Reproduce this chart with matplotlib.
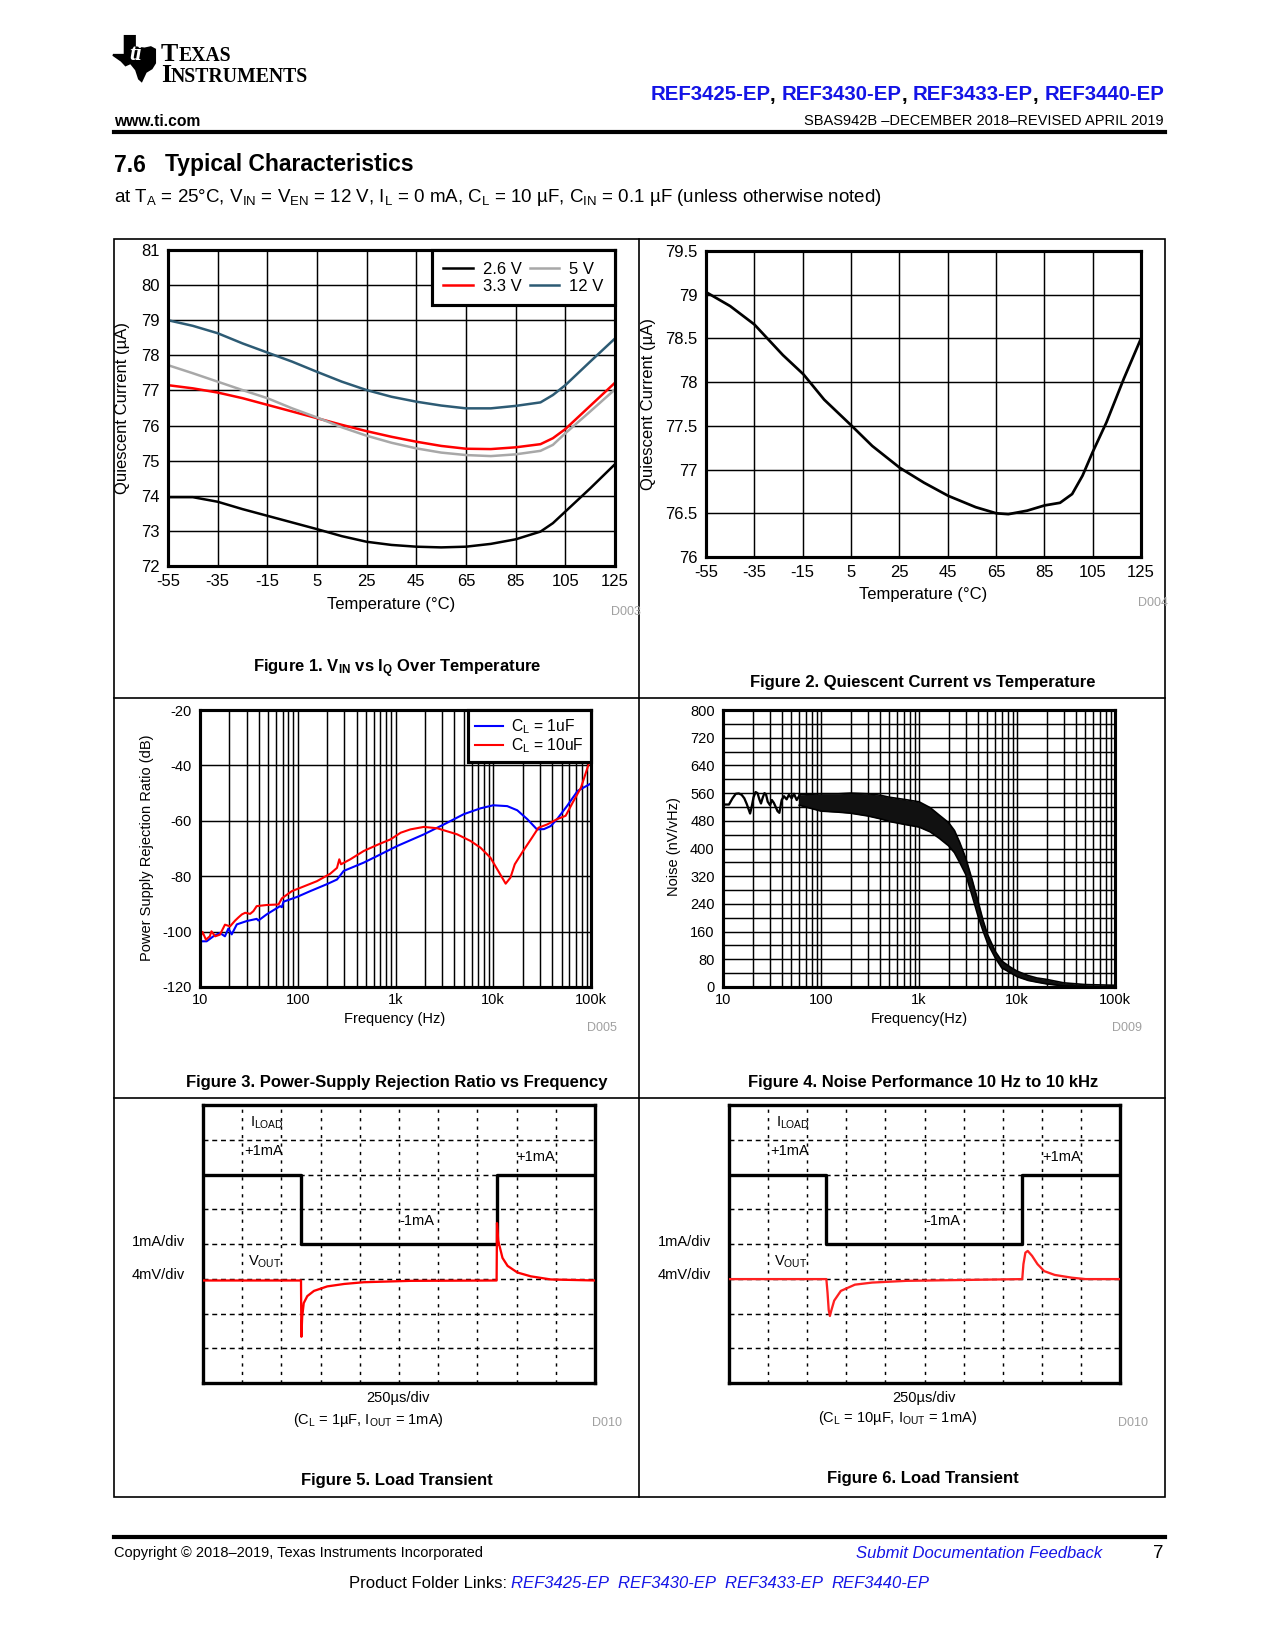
import matplotlib
matplotlib.use("Agg")
import matplotlib.pyplot as plt
from matplotlib.lines import Line2D
from matplotlib.patches import Rectangle, Polygon
from matplotlib.ticker import NullFormatter, FixedLocator

plt.rcParams['font.family'] = ['Liberation Sans', 'DejaVu Sans']
plt.rcParams['mathtext.default'] = 'regular'
plt.rcParams['axes.unicode_minus'] = False
plt.rcParams['font.size'] = 8

# ---------------------------------------------------------------- data
# Figure 1 : Iq vs temperature for four supply voltages
f1_temp = [-55, -45, -35, -25, -15, -5, 5, 15, 25, 35, 45, 55, 65, 75, 85, 95, 100, 105, 115, 125]
f1_iq_26 = [73.96, 73.96, 73.83, 73.62, 73.43, 73.24, 73.05, 72.85, 72.69, 72.60,
            72.55, 72.53, 72.55, 72.63, 72.76, 72.98, 73.22, 73.55, 74.21, 74.90]
f1_iq_33 = [77.15, 77.06, 76.94, 76.78, 76.59, 76.40, 76.21, 76.02, 75.84, 75.68,
            75.54, 75.42, 75.34, 75.33, 75.38, 75.47, 75.64, 75.90, 76.56, 77.22]
f1_iq_5 = [77.72, 77.49, 77.25, 77.01, 76.78, 76.49, 76.23, 75.95, 75.71, 75.51,
           75.35, 75.23, 75.16, 75.13, 75.18, 75.28, 75.45, 75.78, 76.40, 77.03]
f1_iq_12 = [79.00, 78.84, 78.63, 78.34, 78.08, 77.82, 77.53, 77.25, 77.01, 76.82,
            76.68, 76.57, 76.49, 76.49, 76.56, 76.66, 76.87, 77.15, 77.82, 78.48]
f1_labels = ['2.6 V', '3.3 V', '5 V', '12 V']
f1_colors = ['#000000', '#ff0000', '#a8a8a8', '#2d5b74']

temp_ticks = [-55, -35, -15, 5, 25, 45, 65, 85, 105, 125]
f1_yticks = [72, 73, 74, 75, 76, 77, 78, 79, 80, 81]

# Figure 2 : Iq vs temperature
f2_temp = [-55, -45, -35, -23.2, -14.7, -6.1, 5.3, 13.8, 25.2, 35.2, 45.2, 56.6, 65.1, 70.1,
           77.9, 85.1, 91.5, 96.5, 100.8, 105, 110.7, 117.9, 124.7]
f2_iq = [79.03, 78.87, 78.66, 78.31, 78.09, 77.80, 77.50, 77.27, 77.02, 76.85, 76.70, 76.57,
         76.50, 76.49, 76.53, 76.59, 76.62, 76.72, 76.93, 77.20, 77.54, 78.04, 78.48]
f2_yticks = [76, 76.5, 77, 77.5, 78, 78.5, 79, 79.5]
f2_yticklabels = ['76', '76.5', '77', '77.5', '78', '78.5', '79', '79.5']

# Figure 3 : PSRR
f3_freq_1u = [10, 11.7, 13.7, 16, 18, 19.5, 21.1, 23.8, 30, 38, 39.6, 48, 66, 68.8, 71.5, 98,
              134, 198, 252, 295, 473, 650, 1040, 1950, 3130, 5000, 7400, 10000, 13900,
              17600, 22300, 28000, 33000, 38700, 45000, 57000, 73000, 100000]
f3_psrr_1u = [-103.5, -103.5, -101.7, -100.5, -101.7, -98.9, -101.0, -97.4, -96.2, -95.4,
              -96.0, -93.8, -90.8, -91.2, -89.2, -87.5, -85.4, -82.9, -81.2, -78.1, -75.1,
              -72.7, -69.1, -64.9, -61.3, -57.6, -55.5, -54.4, -54.7, -56.2, -59.4, -63.1,
              -63.0, -61.9, -59.4, -54.6, -49.2, -46.5]
f3_freq_10u = [10, 10.6, 11.5, 12.6, 13.1, 14.3, 16, 18, 20.3, 22.9, 24.7, 26.8, 29, 32.6, 35.2,
               38, 48, 63.6, 68.8, 87, 106, 157, 215, 252, 266, 277, 345, 473, 650, 890, 1130,
               1420, 1950, 2680, 4280, 5870, 7400, 9350, 11500, 13400, 15000, 16600, 20200,
               24900, 29000, 35700, 45000, 55000, 65000, 79000, 100000]
f3_psrr_10u = [-102.3, -100.1, -102.9, -101.7, -99.9, -101.7, -101.1, -97.5, -98.1, -96.0,
               -94.9, -93.8, -93.2, -93.6, -92.6, -90.8, -90.4, -90.2, -88.0, -85.4, -84.2,
               -81.8, -79.1, -77.0, -73.9, -75.7, -73.9, -70.9, -68.7, -66.7, -64.3, -63.1,
               -62.2, -62.7, -64.9, -67.3, -69.7, -73.3, -78.7, -82.7, -80.5, -75.7, -70.9,
               -66.1, -62.5, -61.3, -59.4, -58.2, -53.4, -48.0, -37.0]
freq_ticks = [10, 100, 1000, 10000, 100000]
freq_ticklabels = ['10', '100', '1k', '10k', '100k']
f3_yticks = [-120, -100, -80, -60, -40, -20]

# Figure 4 : noise density (low-frequency trace + envelope of the dense band)
f4_freq_lo = [10, 11.5, 12.5, 13.5, 14.5, 15.5, 16.5, 17.5, 18.9, 19.6, 20.5, 21.5, 22.5, 23.5,
              24.4, 25.5, 26.5, 27.5, 28.6, 30.2, 31.5, 33, 34.5, 36, 37.6, 39.7, 41.9, 44.6,
              47, 50.2, 53, 56.5, 60]
f4_noise_lo = [527, 527, 545, 558, 559, 555, 545, 528, 501, 520, 548, 563, 560, 542, 530, 548,
               560, 556, 535, 525, 540, 532, 520, 508, 503, 540, 551, 542, 555, 545, 558, 540, 552]
f4_freq_band = [60, 100, 150, 200, 300, 400, 500, 700, 1000, 1300, 1600, 2000, 2300, 2600,
                3000, 3500, 4000, 4500, 5000, 6000, 7000, 8500, 10000, 13000, 16000, 20000,
                30000, 50000, 100000]
f4_noise_hi = [555, 558, 558, 560, 558, 554, 548, 542, 535, 518, 497, 475, 452, 418, 372, 308,
               248, 193, 152, 103, 75, 58, 46, 33, 26, 22, 12, 7, 5]
f4_noise_lo_env = [525, 508, 505, 502, 494, 486, 478, 470, 462, 448, 430, 408, 388, 360, 325,
                   262, 205, 162, 127, 84, 55, 42, 30, 19, 14, 9, 3, 1, 0]
f4_yticks = list(range(0, 801, 80))

# Figures 5/6 : scope traces, in divisions (10 x 8 screen)
f5_iload_t = [0, 2.5, 7.49, 10]
f5_iload = [6, 4, 6, 6]
f5_vout_t = [0, 2.5, 2.51, 2.53, 2.57, 2.66, 2.83, 3.17, 3.6, 4.1, 5.3, 7.49, 7.5, 7.53, 7.64,
             7.77, 8.02, 8.36, 8.87, 10]
f5_vout = [2.95, 2.95, 1.33, 1.9, 2.3, 2.5, 2.65, 2.78, 2.85, 2.9, 2.94, 2.95, 4.6, 4.1, 3.6,
           3.37, 3.18, 3.07, 2.98, 2.95]
f6_iload_t = [0, 2.49, 7.5, 10]
f6_iload = [6, 4, 6, 6]
f6_vout_t = [0, 2.49, 2.52, 2.55, 2.58, 2.62, 2.69, 2.86, 3.22, 3.66, 4.54, 7.5, 7.53, 7.58,
             7.64, 7.75, 7.89, 8.06, 8.33, 8.77, 9.12, 10]
f6_vout = [2.99, 2.99, 2.6, 2.1, 1.93, 2.1, 2.37, 2.65, 2.83, 2.89, 2.94, 2.99, 3.42, 3.75,
           3.8, 3.66, 3.42, 3.22, 3.11, 3.03, 2.99, 2.99]

BLUE = '#1414e6'
GREY = '#a0a0a0'

# ---------------------------------------------------------------- page
W, H = 1275, 1650
fig = plt.figure(figsize=(8.5, 11), dpi=150)
renderer = fig.canvas.get_renderer()


def fx(x):
  return x / W


def fy(y):
  return 1 - y / H


def box_axes(l, t, r, b):
  return fig.add_axes([l / W, 1 - b / H, (r - l) / W, (b - t) / H])


def hline(x0, x1, y, lw):
  fig.add_artist(Line2D([fx(x0), fx(x1)], [fy(y), fy(y)], color='k', lw=lw))


def vline(x, y0, y1, lw):
  fig.add_artist(Line2D([fx(x), fx(x)], [fy(y0), fy(y1)], color='k', lw=lw))


def rich(x, y, parts, ha='left', va='center', **common):
  # parts drawn one after another, measured with the renderer
  texts = []
  for s, kw in parts:
    opts = dict(common)
    opts.update(kw)
    texts.append(fig.text(0, fy(y), s, va=va, **opts))
  widths = [t.get_window_extent(renderer).width for t in texts]
  total = sum(widths)
  x0 = x if ha == 'left' else (x - total if ha == 'right' else x - total / 2.0)
  for t, w in zip(texts, widths):
    t.set_x(x0 / W)
    x0 += w


def txt(x, y, s, **kw):
  kw.setdefault('ha', 'center')
  kw.setdefault('va', 'center')
  return fig.text(fx(x), fy(y), s, **kw)


# ---- header
logo = [(0.28, 0), (0.52, 0), (0.52, 0.25), (0.75, 0.28), (0.9, 0.25), (1.0, 0.3), (1.0, 0.6),
        (0.92, 0.72), (0.78, 0.8), (0.68, 1.0), (0.62, 0.95), (0.55, 0.75), (0.42, 0.6),
        (0.3, 0.65), (0.2, 0.55), (0.0, 0.42), (0.28, 0.42)]
fig.add_artist(Polygon([(fx(113 + u * 42), fy(36 + v * 45)) for u, v in logo],
                       closed=True, color='k', transform=fig.transFigure))
txt(136, 54, 'ti', color='white', fontsize=11, fontweight='bold', style='italic',
    family='Liberation Serif')
rich(161, 61, [('T', dict(fontsize=12.5)), ('EXAS', dict(fontsize=9.5))], va='baseline',
     family='Liberation Serif', fontweight='bold')
rich(161, 82, [('I', dict(fontsize=12.5)), ('NSTRUMENTS', dict(fontsize=9.5))], va='baseline',
     family='Liberation Serif', fontweight='bold')

hdr = []
for i, name in enumerate(['REF3425-EP', 'REF3430-EP', 'REF3433-EP', 'REF3440-EP']):
  if i:
    hdr.append((', ', dict(color='k')))
  hdr.append((name, dict(color=BLUE)))
rich(1164, 95, hdr, ha='right', fontsize=9.8, fontweight='bold')

txt(114, 121, 'www.ti.com', ha='left', fontsize=7.5, fontweight='bold')
txt(1164, 121, 'SBAS942B \u2013DECEMBER 2018\u2013REVISED APRIL 2019', ha='right', fontsize=7)
hline(114, 1165, 132, 2.0)

txt(114, 165, '7.6', ha='left', fontsize=11, fontweight='bold')
txt(165, 165, 'Typical Characteristics', ha='left', fontsize=11, fontweight='bold')
txt(114, 197, 'at T$_A$ = 25\u00b0C, V$_{IN}$ = V$_{EN}$ = 12 V, I$_L$ = 0 mA, C$_L$ = 10 \u00b5F, '
    'C$_{IN}$ = 0.1 \u00b5F (unless otherwise noted)', ha='left', fontsize=9)

# ---- panel frame
fig.add_artist(Rectangle((fx(114), fy(1497)), (1165 - 114) / W, (1497 - 239) / H, fill=False,
                         lw=0.8, ec='k', transform=fig.transFigure))
vline(639, 239, 1497, 0.8)
hline(114, 1165, 698, 0.8)
hline(114, 1165, 1098, 0.8)


def style_axes(ax, size):
  for s in ax.spines.values():
    s.set_linewidth(1.5)
  ax.tick_params(which='both', length=0, labelsize=size, pad=4)
  ax.set_axisbelow(True)


# ---- Figure 1
ax1 = box_axes(168, 250, 615, 566)
for y, lab, col in zip([f1_iq_26, f1_iq_33, f1_iq_5, f1_iq_12], f1_labels, f1_colors):
  ax1.plot(f1_temp, y, color=col, lw=1.2, label=lab)
ax1.set_xlim(-55, 125)
ax1.set_ylim(72, 81)
ax1.set_xticks(temp_ticks)
ax1.set_yticks(f1_yticks)
ax1.grid(True, color='k', lw=0.7)
style_axes(ax1, 8)
leg = ax1.legend(ncol=2, loc='upper right', bbox_to_anchor=(1, 1), borderaxespad=0,
                 fancybox=False, edgecolor='k', framealpha=1, fontsize=8, handlelength=1.75,
                 handletextpad=0.6, columnspacing=0.5, labelspacing=0.12, borderpad=0.7)
leg.get_frame().set_linewidth(1.5)
txt(123, 408, 'Quiescent Current (\u00b5A)', rotation=90, fontsize=8)
txt(391, 604, 'Temperature (\u00b0C)', fontsize=8)
txt(611, 612, 'D003', ha='left', fontsize=6, color=GREY)
txt(397, 669, 'Figure 1. V$_{IN}$ vs I$_Q$ Over Temperature', fontsize=8, fontweight='bold')

# ---- Figure 2
ax2 = box_axes(706, 251, 1141, 557)
ax2.plot(f2_temp, f2_iq, color='k', lw=1.3)
ax2.set_xlim(-55, 125)
ax2.set_ylim(76, 79.5)
ax2.set_xticks(temp_ticks)
ax2.set_yticks(f2_yticks)
ax2.set_yticklabels(f2_yticklabels)
ax2.grid(True, color='k', lw=0.7)
style_axes(ax2, 8)
txt(649, 404, 'Quiescent Current (\u00b5A)', rotation=90, fontsize=8)
txt(923, 594, 'Temperature (\u00b0C)', fontsize=8)
txt(1138, 603, 'D004', ha='left', fontsize=6, color=GREY)
txt(923, 683, 'Figure 2. Quiescent Current vs Temperature', fontsize=8, fontweight='bold')

# ---- Figure 3
ax3 = box_axes(200, 710, 591, 987)
ax3.plot(f3_freq_1u, f3_psrr_1u, color='#0000ff', lw=1.0, label='C$_L$ = 1uF')
ax3.plot(f3_freq_10u, f3_psrr_10u, color='#ff0000', lw=1.0, label='C$_L$ = 10uF')
ax3.set_xscale('log')
ax3.set_xlim(10, 1e5)
ax3.set_ylim(-120, -20)
ax3.set_xticks(freq_ticks)
ax3.set_xticklabels(freq_ticklabels)
ax3.xaxis.set_minor_locator(FixedLocator([m * d for d in [10, 100, 1000, 10000] for m in range(2, 10)]))
ax3.xaxis.set_minor_formatter(NullFormatter())
ax3.set_yticks(f3_yticks)
ax3.grid(True, which='both', color='k', lw=0.7)
style_axes(ax3, 7)
ax3.tick_params(axis='x', pad=3)
leg = ax3.legend(loc='upper right', bbox_to_anchor=(1, 1), borderaxespad=0, fancybox=False,
                 edgecolor='k', framealpha=1, fontsize=7.5, handlelength=1.8, handletextpad=0.5,
                 labelspacing=0.05, borderpad=0.45)
leg.get_frame().set_linewidth(1.5)
txt(147, 848, 'Power Supply Rejection Ratio (dB)', rotation=90, fontsize=7)
txt(395, 1019, 'Frequency (Hz)', fontsize=7)
txt(587, 1028, 'D005', ha='left', fontsize=6, color=GREY)
txt(397, 1082, 'Figure 3. Power-Supply Rejection Ratio vs Frequency', fontsize=8,
    fontweight='bold')

# ---- Figure 4
ax4 = box_axes(723, 710, 1115, 987)
ax4.plot(f4_freq_lo, f4_noise_lo, color='k', lw=1.1)
ax4.fill_between(f4_freq_band, f4_noise_lo_env, f4_noise_hi, color='#111111', lw=0)
ax4.plot(f4_freq_band, f4_noise_hi, color='k', lw=0.8)
ax4.plot(f4_freq_band, f4_noise_lo_env, color='k', lw=0.8)
ax4.set_xscale('log')
ax4.set_xlim(10, 1e5)
ax4.set_ylim(0, 800)
ax4.set_xticks(freq_ticks)
ax4.set_xticklabels(freq_ticklabels)
ax4.xaxis.set_minor_locator(FixedLocator([m * d for d in [10, 100, 1000, 10000] for m in range(2, 10)]))
ax4.xaxis.set_minor_formatter(NullFormatter())
ax4.set_yticks(f4_yticks)
ax4.yaxis.set_minor_locator(FixedLocator(list(range(40, 800, 80))))
ax4.grid(True, which='both', color='k', lw=0.7)
style_axes(ax4, 7)
ax4.tick_params(axis='x', pad=3)
txt(674, 847, 'Noise (nV/vHz)', rotation=90, fontsize=7)
txt(919, 1019, 'Frequency(Hz)', fontsize=7)
txt(1112, 1028, 'D009', ha='left', fontsize=6, color=GREY)
txt(923, 1082, 'Figure 4. Noise Performance 10 Hz to 10 kHz', fontsize=8, fontweight='bold')


# ---- Figures 5 and 6 (scope screens)
def scope(box, it, iv, vt, vv, vcol, texts):
  ax = box_axes(*box)
  ax.set_xlim(0, 10)
  ax.set_ylim(0, 8)
  ax.set_xticks([])
  ax.set_yticks([])
  for s in ax.spines.values():
    s.set_linewidth(1.6)
  for k in range(1, 10):
    ax.axvline(k, color='k', lw=0.7, ls=(0, (2.2, 3.6)), zorder=1)
  for k in range(1, 8):
    ax.axhline(k, color='k', lw=0.7, ls=(0, (3.4, 2.6)), zorder=1)
  ax.plot(it, iv, color='k', lw=1.6, drawstyle='steps-post', zorder=3)
  ax.plot(vt, vv, color=vcol, lw=1.1, zorder=4)
  for x, y, s in texts:
    ax.text(x, y, s, ha='left', va='center', fontsize=7, zorder=5)
  return ax


scope_labels = [(1.2, 7.5, 'I$_{LOAD}$'), (1.05, 6.68, '+1mA'), (8.0, 6.5, '+1mA'),
                (5.02, 4.65, '-1mA'), (1.15, 3.5, 'V$_{OUT}$')]

scope((203, 1105, 595, 1383), f5_iload_t, f5_iload, f5_vout_t, f5_vout, '#ff0000', scope_labels)
txt(185, 1242, '1mA/div', ha='right', fontsize=7)
txt(185, 1275, '4mV/div', ha='right', fontsize=7)
txt(398, 1398, '250\u00b5s/div', fontsize=7)
txt(368, 1420, '(C$_L$ = 1\u00b5F, I$_{OUT}$ = 1mA)', fontsize=7)
txt(592, 1423, 'D010', ha='left', fontsize=6, color=GREY)
txt(397, 1481, 'Figure 5. Load Transient', fontsize=8, fontweight='bold')

scope((729, 1105, 1120, 1383), f6_iload_t, f6_iload, f6_vout_t, f6_vout, '#ff2020', scope_labels)
txt(711, 1242, '1mA/div', ha='right', fontsize=7)
txt(711, 1275, '4mV/div', ha='right', fontsize=7)
txt(924, 1398, '250\u00b5s/div', fontsize=7)
txt(898, 1418, '(C$_L$ = 10\u00b5F, I$_{OUT}$ = 1mA)', fontsize=7)
txt(1118, 1423, 'D010', ha='left', fontsize=6, color=GREY)
txt(923, 1479, 'Figure 6. Load Transient', fontsize=8, fontweight='bold')

# ---- footer
hline(114, 1165, 1537, 2.0)
txt(114, 1553, 'Copyright \u00a9 2018\u20132019, Texas Instruments Incorporated', ha='left', fontsize=7)
txt(1102, 1553, 'Submit Documentation Feedback', ha='right', fontsize=8, style='italic', color=BLUE)
txt(1164, 1553, '7', ha='right', fontsize=9)
links = [('Product Folder Links: ', dict(color='k', style='normal'))]
for i, name in enumerate(['REF3425-EP', 'REF3430-EP', 'REF3433-EP', 'REF3440-EP']):
  links.append((name + ('  ' if i < 3 else ''), dict(color=BLUE, style='italic')))
rich(639, 1583, links, ha='center', fontsize=8)

fig.savefig('out.png', dpi=150)
